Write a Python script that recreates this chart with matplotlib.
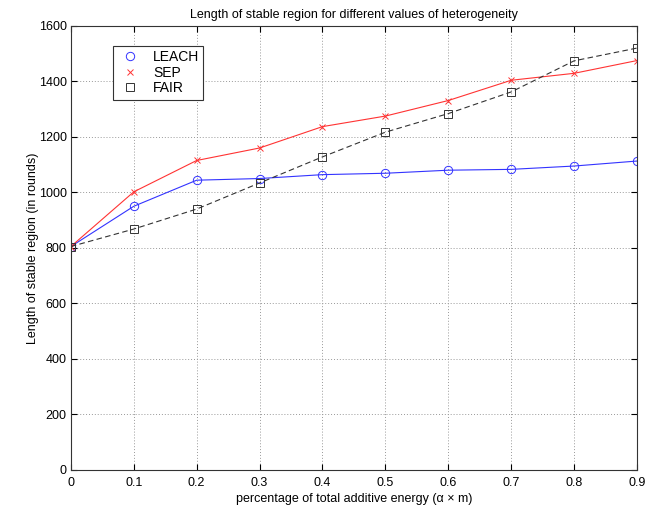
import matplotlib
matplotlib.use("Agg")
import matplotlib.pyplot as plt
from matplotlib.lines import Line2D

plt.rcParams["font.family"] = ["Liberation Sans", "DejaVu Sans"]

x_values = [0, 0.1, 0.2, 0.3, 0.4, 0.5, 0.6, 0.7, 0.8, 0.9]
leach = [805, 950, 1044, 1050, 1064, 1069, 1080, 1083, 1095, 1113]
sep = [805, 1002, 1115, 1160, 1237, 1275, 1331, 1404, 1429, 1475]
fair = [805, 868, 940, 1034, 1128, 1217, 1284, 1362, 1474, 1520]

fig = plt.figure(figsize=(6.5, 5.07), dpi=100)
ax = fig.add_axes([0.109, 0.073, 0.871, 0.876])

ax.plot(x_values, leach, color="#3333ff", lw=0.8, marker="o", ms=6,
        mfc="none", mec="#3333ff", mew=0.7)
ax.plot(x_values, sep, color="#ff3333", lw=0.8, marker="x", ms=5,
        mec="#ff3333", mew=0.7)
ax.plot(x_values, fair, color="#333333", lw=0.8, ls=(0, (5, 3)), marker="s", ms=5.5,
        mfc="none", mec="#333333", mew=0.7)

ax.set_xlim(0, 0.9)
ax.set_ylim(0, 1600)
ax.set_xticks(x_values)
ax.set_xticklabels(["0", "0.1", "0.2", "0.3", "0.4", "0.5", "0.6", "0.7", "0.8", "0.9"])
ax.set_yticks(range(0, 1601, 200))
ax.tick_params(direction="in", labelsize=9, length=4, top=True, right=True, pad=3)
ax.tick_params(axis="x", pad=5)
ax.grid(True, ls=(0, (1, 2)), color="#999999", lw=0.7)
for spine in ax.spines.values():
    spine.set_color("#333333")
    spine.set_linewidth(0.8)

ax.set_title("Length of stable region for different values of heterogeneity", fontsize=9)
ax.set_xlabel("percentage of total additive energy (α × m)", fontsize=9, labelpad=3)
ax.set_ylabel("Length of stable region (in rounds)", fontsize=9, labelpad=0)

handles = [
    Line2D([], [], ls="none", marker="o", ms=6, mfc="none", mec="#3333ff", mew=0.7),
    Line2D([], [], ls="none", marker="x", ms=5, mec="#ff3333", mew=0.7),
    Line2D([], [], ls="none", marker="s", ms=5.5, mfc="none", mec="#333333", mew=0.7),
]
leg = ax.legend(handles, ["LEACH", "SEP", "FAIR"], loc="upper left",
                bbox_to_anchor=(0.074, 0.955), fontsize=10, fancybox=False,
                framealpha=1, edgecolor="#333333", borderpad=0.3,
                labelspacing=0.12, handletextpad=0.7, handlelength=1.9,
                borderaxespad=0)
leg.get_frame().set_linewidth(0.8)

fig.savefig("out.png", dpi=100)
